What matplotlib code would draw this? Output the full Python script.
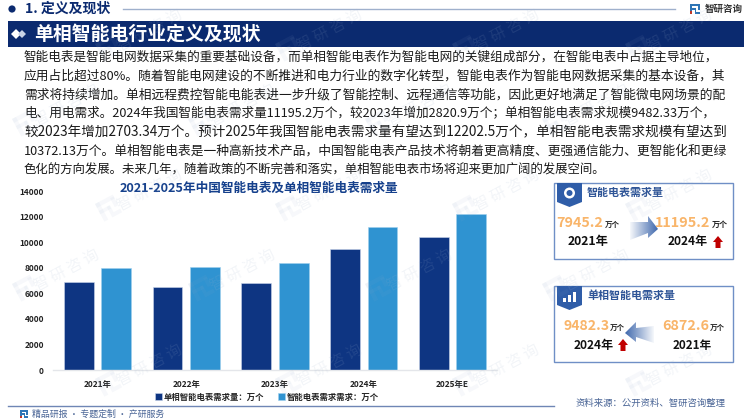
import numpy as np
import matplotlib
matplotlib.use('Agg')
import matplotlib.pyplot as plt
from matplotlib.patches import Polygon, Rectangle, Circle

plt.rcParams['font.family'] = ['Noto Sans CJK SC', 'DejaVu Sans']

# chart data
years = ['2021年', '2022年', '2023年', '2024年', '2025年E']
single_phase = [6872.6, 6530, 6779, 9482.33, 10372.13]
smart_meter = [7945.2, 8020, 8374.3, 11195.2, 12202.5]
y_ticks = [0, 2000, 4000, 6000, 8000, 10000, 12000, 14000]
legend_labels = ['单相智能电表需求量：万个', '智能电表需求需求：万个']

body_lines = [
    '智能电表是智能电网数据采集的重要基础设备，而单相智能电表作为智能电网的关键组成部分，在智能电表中占据主导地位，',
    '应用占比超过80%。随着智能电网建设的不断推进和电力行业的数字化转型，智能电表作为智能电网数据采集的基本设备，其',
    '需求将持续增加。单相远程费控智能电能表进一步升级了智能控制、远程通信等功能，因此更好地满足了智能微电网场景的配',
    '电、用电需求。2024年我国智能电表需求量11195.2万个，较2023年增加2820.9万个；单相智能电表需求规模9482.33万个，',
    '较2023年增加2703.34万个。预计2025年我国智能电表需求量有望达到12202.5万个，单相智能电表需求规模有望达到',
    '10372.13万个。单相智能电表是一种高新技术产品，中国智能电表产品技术将朝着更高精度、更强通信能力、更智能化和更绿',
    '色化的方向发展。未来几年，随着政策的不断完善和落实，单相智能电表市场将迎来更加广阔的发展空间。',
]
body_ends = [718, 725, 725, 718, 726, 726, 608]
body_ys = [57, 76, 95, 113, 132, 151, 170]

NAVY = '#0b2a6f'
DARK = '#0e3582'
LIGHT = '#2f93d1'
ORANGE = '#f9b56a'
BOX = '#6f8fc6'

fig = plt.figure(figsize=(7.5, 4.2), dpi=100)
renderer = fig.canvas.get_renderer()

# whole-figure axes in pixel coordinates for the page furniture
bg = fig.add_axes([0, 0, 1, 1], zorder=0)
bg.set_xlim(0, 750)
bg.set_ylim(420, 0)
bg.axis('off')


def fit(t, x0, x1):
    # scale the font so the text runs from x0 to x1 px
    w = t.get_window_extent(renderer).width
    t.set_fontsize(t.get_fontsize() * (x1 - x0) / w)


def label(x0, x1, y, s, size=9, color='#111111', weight='normal', ax=bg):
    t = ax.text(x0, y, s, fontsize=size, color=color, fontweight=weight, ha='left', va='center')
    fit(t, x0, x1)
    return t


def logo(ax, x, y, s, alpha=1.0, c1='#2e75b6', c2='#c0392b', rot=0):
    # rough version of the company mark
    tr = matplotlib.transforms.Affine2D().rotate_deg_around(x, y, rot) + ax.transData
    parts = [(0, 0, 1, 0.22, c1), (0, 0, 0.22, 1, c1), (0, 0.4, 0.6, 0.18, c1),
             (0.45, 0.4, 0.18, 0.4, c1), (0.45, 0.8, 0.55, 0.2, c1), (0.8, 0.1, 0.2, 0.5, c1)]
    for px, py, pw, ph, c in parts:
        ax.add_patch(Rectangle((x + px * s, y + py * s), pw * s, ph * s, fc=c, ec='none', alpha=alpha, transform=tr))
    if c2:
        ax.add_patch(Rectangle((x, y + 0.72 * s), 0.22 * s, 0.28 * s, fc=c2, ec='none', alpha=alpha, transform=tr))


# header
bg.add_patch(Circle((12, 9), 3.6, fc=NAVY, ec='none'))
label(25, 111, 9, '1. 定义及现状', 9.5, NAVY, 'bold')
bg.plot([123, 675], [9, 9], color='#9fb0cc', lw=1)
logo(bg, 690, 4, 10)
label(705, 743, 9, '智研咨询', 7, '#333333', 'bold')
bg.add_patch(Rectangle((8, 21), 736, 26, fc=NAVY, ec='none'))
bg.add_patch(Polygon([(11, 34), (16, 29), (21, 34), (16, 39)], fc='white', ec='none'))
bg.add_patch(Polygon([(18, 34), (22, 30), (26, 34), (22, 38)], fc='#c9d3e6', ec='none'))
label(34, 260, 34, '单相智能电行业定义及现状', 13.5, 'white', 'bold')

# body text
for s, end, y in zip(body_lines, body_ends, body_ys):
    label(24, end, y, s, 9, '#1a1a1a')

label(120, 401, 188, '2021-2025年中国智能电表及单相智能电表需求量', 9.5, '#15408c', 'bold')

# bars
ax = fig.add_axes([53 / 750, 50 / 420, 444 / 750, 179 / 420], zorder=1)
ax.patch.set_alpha(0)
x = np.arange(len(years))
width = 0.335
b1 = ax.bar(x - 0.21, single_phase, width, color=DARK, edgecolor='#c9d6ea', linewidth=0.4)
b2 = ax.bar(x + 0.21, smart_meter, width, color=LIGHT, edgecolor='#9fd0ee', linewidth=0.4)
ax.set_xlim(-0.5, 4.5)
ax.set_ylim(0, 14000)
ax.set_xticks(x)
ax.set_xticklabels(years, fontsize=6, fontweight='bold', color='#222222')
ax.set_yticks(y_ticks)
ax.set_yticklabels([str(v) for v in y_ticks], fontsize=6, fontweight='bold', color='#222222')
ax.tick_params(axis='x', length=0, pad=7)
ax.tick_params(axis='y', length=0, pad=6.5)
for side in ['top', 'left', 'right']:
    ax.spines[side].set_visible(False)
ax.spines['bottom'].set_color('#e4e6ea')
ax.spines['bottom'].set_linewidth(1)
fig.legend([b1, b2], legend_labels, loc='center', bbox_to_anchor=(267 / 750, 1 - 397 / 420), ncol=2,
           frameon=False, prop={'size': 6, 'weight': 'bold'}, handlelength=0.8, handleheight=0.8,
           handletextpad=0.3, columnspacing=1.6, labelcolor='#222222')

# footer
bg.plot([8, 554], [406, 406], color='#6f86b5', lw=1)
logo(bg, 20, 410, 8)
label(32, 165, 414, '精品研报 · 专题定制 · 产研服务', 7.5, '#4a6596')
label(576, 726, 403, '资料来源：公开资料、智研咨询整理', 7.5, '#4a6596')


def gradient_arrow(ax, pts, x0, x1, y0, y1, rev=False):
    # arrow fading out towards its tail
    grad = np.zeros((2, 64, 4))
    grad[..., :3] = matplotlib.colors.to_rgb('#3f68ad')
    fade = np.linspace(0.05, 1, 64)
    grad[..., 3] = fade[::-1] if rev else fade
    im = ax.imshow(grad, extent=(x0, x1, y1, y0), aspect='auto', zorder=2)
    im.set_clip_path(Polygon(pts, transform=ax.transData))


def red_up(ax, xc, yc):
    ax.add_patch(Polygon([(xc - 5, yc), (xc, yc - 6), (xc + 5, yc), (xc + 2.5, yc), (xc + 2.5, yc + 6),
                          (xc - 2.5, yc + 6), (xc - 2.5, yc)], fc='#c00000', ec='none'))


def badge(ax, y):
    ax.add_patch(Polygon([(557, y), (582, y), (582, y + 19), (569.5, y + 24), (557, y + 19)], fc='#2f5da8', ec='none'))


# panel 1
bg.add_patch(Rectangle((554, 183), 179, 76, fc='white', ec=BOX, lw=1))
badge(bg, 183)
bg.add_patch(Circle((569.5, 193), 5.5, fc='white', ec='none'))
bg.add_patch(Circle((569.5, 193), 3, fc='#2f5da8', ec='none'))
label(587, 664, 193, '智能电表需求量', 8, '#2f5597', 'bold')
label(556, 603, 223, '7945.2', 11, ORANGE, 'bold')
label(605, 620, 224, '万个', 5.5, '#222222', 'bold')
label(568, 609, 242, '2021年', 9, '#111111', 'bold')
label(655, 711, 223, '11195.2', 11, ORANGE, 'bold')
label(712, 728, 224, '万个', 5.5, '#222222', 'bold')
label(668, 708, 242, '2024年', 9, '#111111', 'bold')
red_up(bg, 718, 242)
gradient_arrow(bg, [(630, 222), (648, 222), (648, 216), (658, 229), (648, 238), (648, 233), (630, 240)], 630, 658, 216, 240)

# panel 2
bg.add_patch(Rectangle((554, 286), 179, 76, fc='white', ec=BOX, lw=1))
badge(bg, 286)
for bx, bh in zip([563, 568, 573], [4, 7, 10]):
    bg.add_patch(Rectangle((bx, 302 - bh), 3, bh, fc='white', ec='none'))
label(587, 675, 296, '单相智能电需求量', 8, '#2f5597', 'bold')
label(563, 609, 326, '9482.3', 11, ORANGE, 'bold')
label(610, 625, 327, '万个', 5.5, '#222222', 'bold')
label(574, 614, 345, '2024年', 9, '#111111', 'bold')
red_up(bg, 623, 345)
label(662, 709, 326, '6872.6', 11, ORANGE, 'bold')
label(710, 725, 327, '万个', 5.5, '#222222', 'bold')
label(673, 712, 345, '2021年', 9, '#111111', 'bold')
gradient_arrow(bg, [(654, 326), (636, 328), (636, 322), (625, 333), (636, 342), (636, 337), (654, 343)], 625, 654, 322, 343, rev=True)

bg.set_xlim(0, 750)
bg.set_ylim(420, 0)

# watermarks over everything
wm = fig.add_axes([0, 0, 1, 1], zorder=2)
wm.patch.set_alpha(0)
wm.set_xlim(0, 750)
wm.set_ylim(420, 0)
wm.axis('off')
wm_rows = [(30, [150, 330, 507, 680]), (105, [67, 243, 420, 597]), (190, [150, 330, 507, 680]),
           (270, [67, 243, 420, 597]), (365, [150, 330, 507, 680])]
for yy, xs in wm_rows:
    for xx in xs:
        wm.text(xx, yy, '智 研 咨 询', fontsize=11, color='#9fb2cc', alpha=0.13, rotation=28, ha='center', va='center')
        logo(wm, xx - 55, yy + 14, 20, alpha=0.07, c1='#8fa8c8', c2=None, rot=-28)

fig.savefig('out.png', dpi=100)
